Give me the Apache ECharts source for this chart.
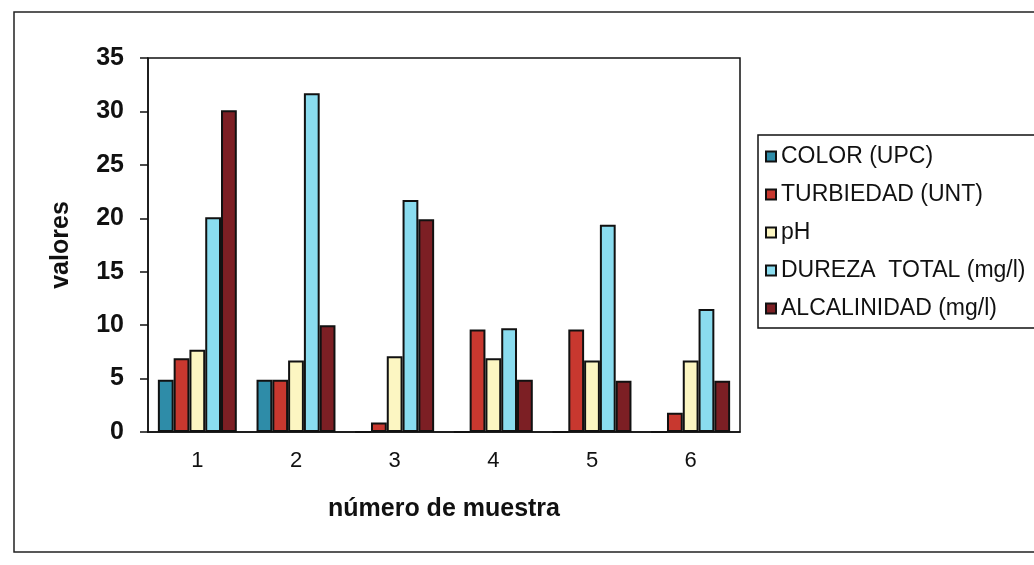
<!DOCTYPE html>
<html>
<head>
<meta charset="utf-8">
<script src="https://cdn.jsdelivr.net/npm/echarts@6/dist/echarts.min.js"></script>
<style>
html,body{margin:0;padding:0;background:#fff;}
#c{width:1034px;height:565px;}
</style>
</head>
<body>
<div id="c"></div>
<script>
const categories = ['1', '2', '3', '4', '5', '6'];
const seriesNames = ['COLOR (UPC)', 'TURBIEDAD (UNT)', 'pH', 'DUREZA  TOTAL (mg/l)', 'ALCALINIDAD (mg/l)'];
const colorUPC = [4.9, 4.9, 0, 0, 0, 0];
const turbiedad = [6.9, 4.9, 0.9, 9.6, 9.6, 1.8];
const pH = [7.7, 6.7, 7.1, 6.9, 6.7, 6.7];
const dureza = [20.1, 31.7, 21.7, 9.7, 19.4, 11.5];
const alcalinidad = [30.1, 10.0, 19.9, 4.9, 4.8, 4.8];
const yTicks = { min: 0, max: 35, interval: 5 };

const colors = ['#2e8ca8', '#c8382f', '#fcf6c2', '#8adcef', '#7c1f24'];
const values = [colorUPC, turbiedad, pH, dureza, alcalinidad];

const chart = echarts.init(document.getElementById('c'));
const font = 'Liberation Sans, Arial, sans-serif';

chart.setOption({
  backgroundColor: '#ffffff',
  animation: false,
  graphic: [{
    type: 'rect',
    shape: { x: 14, y: 12, width: 1050, height: 540 },
    style: { fill: 'none', stroke: '#222', lineWidth: 1.5 },
    silent: true
  }],
  grid: {
    left: 148, right: 294, top: 58, bottom: 133,
    show: true, borderColor: '#111', borderWidth: 1.5, backgroundColor: 'transparent'
  },
  legend: {
    orient: 'vertical',
    left: 758, top: 135,
    padding: [10, 30, 8, 7],
    itemGap: 15,
    itemWidth: 10, itemHeight: 10,
    icon: 'rect',
    borderColor: '#111', borderWidth: 1.5,
    textStyle: { fontFamily: font, fontSize: 23, color: '#111' },
    data: seriesNames
  },
  xAxis: {
    type: 'category',
    data: categories,
    axisLine: { lineStyle: { color: '#111', width: 1.5 } },
    axisTick: { length: 6, lineStyle: { color: '#111', width: 1.5 } },
    axisLabel: { fontFamily: font, fontSize: 22, color: '#111', margin: 18 },
    name: 'número de muestra',
    nameLocation: 'middle',
    nameGap: 65,
    nameTextStyle: { fontFamily: font, fontSize: 25, fontWeight: 'bold', color: '#111' }
  },
  yAxis: {
    type: 'value',
    min: yTicks.min, max: yTicks.max, interval: yTicks.interval,
    splitLine: { show: false },
    axisLine: { show: true, lineStyle: { color: '#111', width: 1.5 } },
    axisTick: { show: true, length: 8, lineStyle: { color: '#111', width: 1.5 } },
    axisLabel: { fontFamily: font, fontSize: 25, fontWeight: 'bold', color: '#111', margin: 24 },
    name: 'valores',
    nameLocation: 'middle',
    nameGap: 74,
    nameTextStyle: { fontFamily: font, fontSize: 25, fontWeight: 'bold', color: '#111' }
  },
  series: seriesNames.map((n, i) => ({
    name: n,
    type: 'bar',
    data: values[i],
    barGap: '0%',
    barCategoryGap: '20%',
    itemStyle: { color: colors[i], borderColor: '#111', borderWidth: 2 }
  }))
});
</script>
</body>
</html>
